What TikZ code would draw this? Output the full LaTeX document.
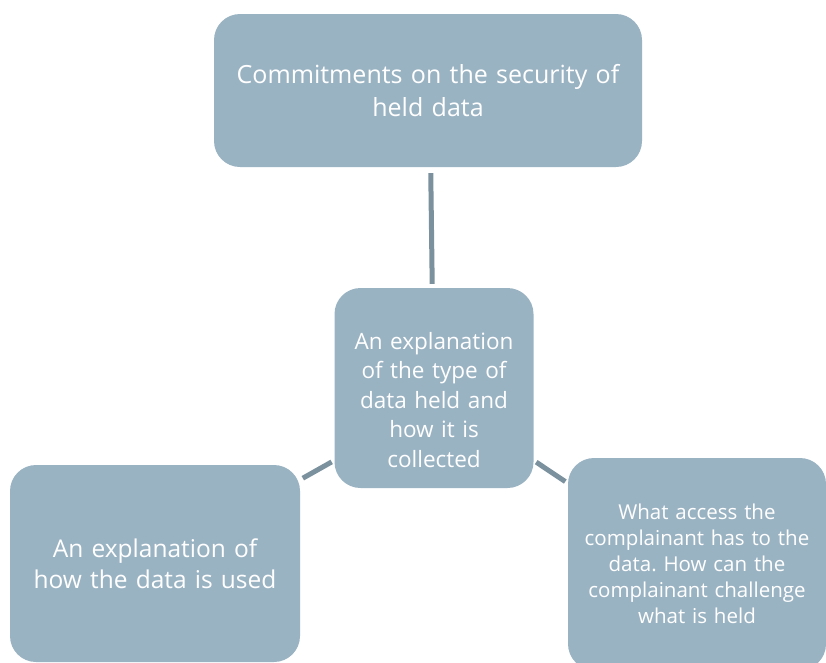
\documentclass[tikz,border=0pt]{standalone}
\usepackage{fontspec}
\setmainfont{Open Sans}
\frenchspacing
\definecolor{boxfill}{HTML}{9AB3C3}
\definecolor{linkgrey}{HTML}{7B919D}
\tikzset{
  topic/.style={rectangle, rounded corners=26pt, fill=boxfill, text=white,
    inner sep=0pt, align=center},
  link/.style={draw=linkgrey, line width=5pt, shorten <=3pt, shorten >=3pt}
}
\begin{document}
\begin{tikzpicture}[x=1pt, y=-1pt]
  \clip (0,0) rectangle (826,662);
  \node (c) [topic, minimum width=199pt, minimum height=200pt] at (434,388) {};
  \node (ctext) [text=white, align=center, text width=190pt, inner sep=0pt,
    font=\fontsize{22.5}{29.5}\selectfont] at (434,400)
    {An explanation\\ of the type of\\ data held and\\ how it is\\ collected};
  \node (t) [topic, minimum width=428pt, minimum height=153pt, text width=420pt,
    font=\fontsize{25}{33}\selectfont] at (428,90.5)
    {Commitments on the security of\\ held data};
  \node (l) [topic, minimum width=290pt, minimum height=197pt, text width=280pt,
    font=\fontsize{24.5}{31}\selectfont] at (155,563.5)
    {An explanation of\\ how the data is used};
  \node (r) [topic, minimum width=258pt, minimum height=212pt, text width=250pt,
    font=\fontsize{20.5}{26}\selectfont] at (697,564)
    {What access the\\ complainant has to the\\ data. How can the\\ complainant challenge\\ what is held};

  \draw[link, shorten <=6pt, shorten >=4pt] (t.-88.5) -- (c.91);
  \draw[link] (c.216) -- (l.30);
  \draw[link] (c.-36) -- (r.148);
\end{tikzpicture}
\end{document}
